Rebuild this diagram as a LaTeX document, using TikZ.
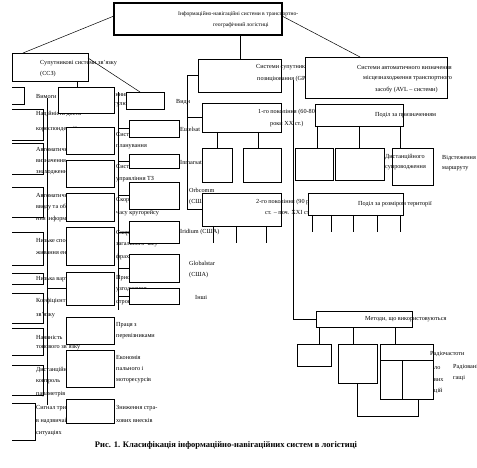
\documentclass[tikz,border=0pt]{standalone}
\usepackage{fontspec}
\setmainfont{Liberation Serif}
\newcommand\mybox[6][]{\node[bx,#1,minimum width={(#5-#3)*1pt},minimum height={(#6-#4)*1pt}] (#2) at ({(#3+#5)/2},{(#4+#6)/2}) {};}
\begin{document}
\begin{tikzpicture}[x=1pt,y=-1pt,
  bx/.style={draw,line width=0.5pt,fill=white,inner sep=0pt,outer sep=0pt},
  tx/.style={anchor=west,inner sep=0pt,font=\fontsize{6.2}{7}\selectfont},
  ttx/.style={anchor=west,inner sep=0pt,font=\fontsize{5.6}{6}\selectfont},
  ln/.style={line width=0.5pt}]
\useasboundingbox (0,0) rectangle (477,468);

% ---------- top box ----------
\mybox[line width=1.6pt]{top}{114}{3}{282}{35}
\node[ttx] (t1) at (178,14) {Інформаційно-навігаційні системи в транспортно-};
\node[ttx] (t2) at (213,25) {географічний логістиці};

% ---------- left column (open boxes) ----------
\foreach \a/\b/\r in {87/104/24,109/140/43,143/174/43,187/217/43,232/265/43,273/284/43,293/323/43,328/355/43,365/395/43,403/440/35}
  \draw[ln] (12,\a) -| (\r,\b) -- (12,\b);

\foreach \y/\t [count=\i] in {97/Вимоги,114/Надійність доста-,129/кореспонденції,149/Автоматичне,161/визначення,173/знаходження,195/Автоматичне,207/вводу та обмі-,219/ння інформацією,241/Низьке спо-,253/живання енергії,279/Низька вартість,301/Коефіцієнт готовності,315/зв’язку,337/Наявність,347/тонового зв’язку,370/Дистанційний,382/контроль,394/параметрів,408/Сигнал тривоги,421/в надзвичайних,433/ситуаціях}
  \node[tx] (l\i) at (36,\y) {\t};

% ---------- SSZ ----------
\mybox{ssz}{12}{53}{88}{81}
\node[tx] (ssz1) at (40,63) {Супутникові системи зв’язку};
\node[tx] (ssz2) at (40,74) {(ССЗ)};

% middle labels
\node[tx] (ch1) at (108,94) {Чинники};
\node[tx] (ch2) at (108,105) {регулювання};
\foreach \y/\t [count=\i] in {134/Система,147/планування,166/Система,179/управління ТЗ,200/Скорочення,213/часу кругорейсу,233/Скорочення,245/загального часу,257/фрахту,278/Прискорення,290/узгодження,302/строків,325/Праця з,336/перевізниками,357/Економія,368/пального і,380/моторесурсів,408/Зниження стра-,420/хових внесків}
  \node[tx] (m\i) at (116,\y) {\t};

% middle boxes
\mybox{vbox}{58}{87}{114}{113}
\mybox{mb1}{66}{127}{114}{154}
\mybox{mb2}{66}{160}{114}{187}
\mybox{mb3}{66}{193}{114}{221}
\mybox{mb4}{66}{227}{114}{265}
\mybox{mb5}{66}{272}{114}{305}
\mybox{mb6}{66}{317}{114}{344}
\mybox{mb7}{66}{350}{114}{387}
\mybox{mb8}{66}{399}{114}{423}

% right-column labels
\node[tx] (vy) at (176,102) {Види};
\node[tx] (s1) at (180,129) {Eutelsat};
\node[tx] (s2) at (180,163) {Inmarsat};
\node[tx] (s3) at (189,190) {Orbcomm};
\node[tx] (s3b) at (189,202) {(США)};
\node[tx] (s4) at (180,232) {Iridium (США)};
\node[tx] (s5) at (189,263) {Globalstar};
\node[tx] (s5b) at (189,275) {(США)};
\node[tx] (s6) at (195,297) {Інші};

% right column boxes
\mybox{chyn}{126}{92}{164}{109}
\mybox{rb1}{129}{120}{179}{137}
\mybox{rb2}{129}{154}{179}{168}
\mybox{rb3}{129}{182}{179}{209}
\mybox{rb4}{129}{221}{179}{243}
\mybox{rb5}{129}{254}{179}{282}
\mybox{rb6}{129}{288}{179}{304}

% ---------- GPS branch ----------
\mybox{gps}{198}{59}{281}{92}
\node[tx] (gps1) at (256,67) {Системи супутникового};
\node[tx] (gps2) at (257,79) {позиціювання (GPS)};
\mybox{gen1}{202}{103}{281}{132}
\node[tx] (gen1a) at (258,112) {1-го покоління (60-80};
\node[tx] (gen1b) at (270,124) {роки XX ст.)};
\mybox{c11}{202}{148}{232}{182}
\mybox{c12}{243}{148}{281}{182}
\mybox{gen2}{202}{193}{281}{226}
\node[tx] (gen2a) at (256,202) {2-го покоління (90 рр.};
\node[tx] (gen2b) at (265,213) {ст. – поч. XXI ст.)};

% ---------- AVL branch ----------
\mybox{avl}{305}{57}{447}{98}
\node[tx] (avl1) at (357,67) {Системи автоматичного визначення};
\node[tx] (avl2) at (363,78) {місцезнаходження транспортного};
\node[tx] (avl3) at (375,90) {засобу (AVL – системи)};
\mybox{pod1}{315}{104}{403}{126}
\node[tx] (pod1t) at (375,115) {Поділ за призначенням};
\mybox{p11}{295}{148}{333}{180}
\mybox{p12}{335}{148}{384}{180}
\mybox{p13}{392}{148}{433}{185}
\node[tx] (p13a) at (385,157) {Дистанційного};
\node[tx] (p13b) at (385,168) {супроводження};
\node[tx] (vid1) at (442,158) {Відстеження};
\node[tx] (vid2) at (442,169) {маршруту};
\mybox{pod2}{308}{193}{403}{215}
\node[tx] (pod2t) at (358,204) {Поділ за розміром території};

% ---------- methods ----------
\mybox{meth}{316}{311}{412}{327}
\node[tx] (metht) at (365,319) {Методи, що використовуються};
\mybox{mt1}{297}{344}{331}{366}
\mybox{mt2}{338}{344}{377}{383}
\mybox{mt3}{380}{344}{433}{399}
\draw[ln] ([yshift=-16pt]mt3.north west) -- ([yshift=-16pt]mt3.north east);
\draw[ln] ([xshift=22pt,yshift=-16pt]mt3.north west) -- ([xshift=22pt]mt3.south west);
\node[tx] (rad) at (430,354) {Радіочастоти};
\node[tx] (f1) at (434,368) {ло};
\node[tx] (f2) at (434,380) {вих};
\node[tx] (f3) at (434,391) {цій};
\node[tx] (rad2) at (453,367) {Радіовані};
\node[tx] (rad3) at (453,378) {гащі};

% ---------- connectors ----------
\draw[ln] ([yshift=3pt]top.west) -- ([xshift=11pt]ssz.north west);
\draw[ln] ([yshift=3pt]top.east) -- ([xshift=55pt]avl.north west);
\draw[ln] ([xshift=42pt]top.south) -- ([xshift=42pt]top.south |- gps.north);
\draw[ln] ([xshift=27pt]ssz.south) -- ([xshift=27pt]ssz.south |- vbox.north);
\draw[ln] ([yshift=-5pt]ssz.north east) -- ([xshift=-5pt]chyn.north);

\coordinate (v0) at (47,98);
\coordinate (v1) at (47,405);
\draw[ln] (v0) -- (v1);
\draw[ln] (v0 |- mb5.west) -- (mb5.west);
\coordinate (w0) at (118,92);
\coordinate (w1) at (118,310);
\draw[ln] (w0) -- (w1);
\foreach \n in {rb1,rb2,rb3,rb4,rb5,rb6}
  \draw[ln] (w0 |- \n.west) -- (\n.west);

\draw[ln] (gps.west) -- ++(-11,0) coordinate (k0) |- (gen2.west);
\draw[ln] (k0 |- gen1.west) -- (gen1.west);
\draw[ln] (c11.north |- gen1.south) -- (c11.north);
\draw[ln] ([xshift=-4pt]c12.north |- gen1.south) -- ([xshift=-4pt]c12.north);
\foreach \dx in {11,34,64}
  \draw[ln] ([xshift=\dx pt]gen2.south west) -- ++(0,17);

\draw[ln] ([xshift=3pt]p11.north |- pod1.south) -- ([xshift=3pt]p11.north);
\draw[ln] (p12.north |- pod1.south) -- (p12.north);
\draw[ln] ([xshift=-12pt]p13.north |- pod1.south) -- ([xshift=-12pt]p13.north);
\foreach \dx in {4,23,45,69,92}
  \draw[ln] ([xshift=\dx pt]pod2.south west) -- ++(0,17);

\coordinate (g0) at (293,80);
\draw[ln] (g0) |- (meth.west);
\draw[ln] ([xshift=5pt]mt1.north |- meth.south) -- ([xshift=5pt]mt1.north);
\draw[ln] ([xshift=-4pt]mt2.north |- meth.south) -- ([xshift=-4pt]mt2.north);
\draw[ln] ([xshift=-11pt]mt3.north |- meth.south) -- ([xshift=-11pt]mt3.north);
\draw[ln] (mt2.south) -- ++(0,33) -| ([xshift=38pt]mt3.south west);

% caption
\node[inner sep=0pt,font=\bfseries\fontsize{8.5}{10}\selectfont] (cap) at (226,445) {Рис. 1. Класифікація інформаційно-навігаційних систем в логістиці};
\end{tikzpicture}
\end{document}
